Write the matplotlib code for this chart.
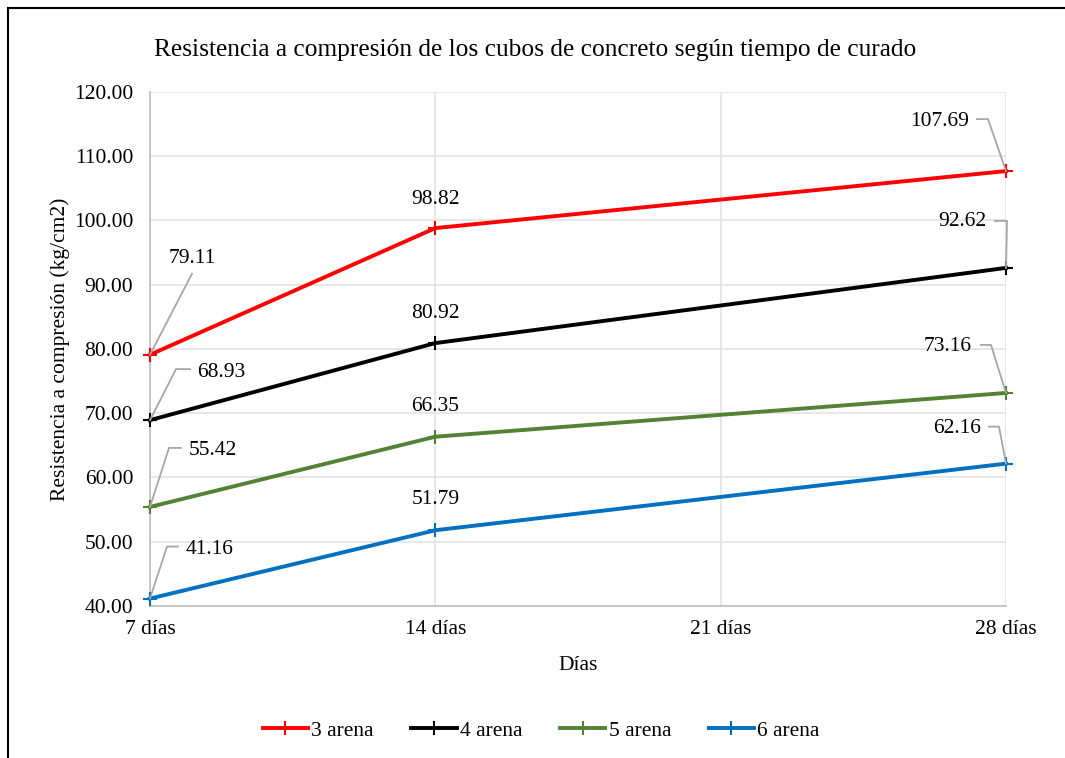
import matplotlib
matplotlib.use("Agg")
import matplotlib.pyplot as plt
from matplotlib.lines import Line2D
from matplotlib.transforms import IdentityTransform

plt.rcParams['font.family'] = ['Liberation Serif', 'DejaVu Serif']

# datos
dias = [7, 14, 28]
series = ['3 arena', '4 arena', '5 arena', '6 arena']
arena3 = [79.11, 98.82, 107.69]
arena4 = [68.93, 80.92, 92.62]
arena5 = [55.42, 66.35, 73.16]
arena6 = [41.16, 51.79, 62.16]
valores = [arena3, arena4, arena5, arena6]
colores = ['#ff0000', '#000000', '#548235', '#0070c0']
xticks = [7, 14, 21, 28]
xlabels = ['7 días', '14 días', '21 días', '28 días']

# posición de etiquetas (px respecto al punto, y hacia abajo) y guías
# (texto_dx, texto_dy, [vertices de la guía])
etiquetas = {
    (0, 0): (42, -96, [(42, -81)]),
    (0, 1): (0, -29, None),
    (0, 2): (-66, -50, [(-18, -52), (-29, -52)]),
    (1, 0): (71, -48, [(26, -51), (40, -51)]),
    (1, 1): (0, -30, None),
    (1, 2): (-44, -46, [(1, -47), (1, -47), (-11, -47)]),
    (2, 0): (63, -56, [(19, -59), (31, -59)]),
    (2, 1): (0, -30, None),
    (2, 2): (-58, -46, [(-15, -48), (-25, -48)]),
    (3, 0): (60, -49, [(17, -52), (28, -52)]),
    (3, 1): (0, -31, None),
    (3, 2): (-49, -35, [(-7, -37), (-17, -37)]),
}

fig = plt.figure(figsize=(10.65, 7.58), dpi=100)
ax = fig.add_axes([150 / 1065, 1 - 606 / 758, (1006 - 150) / 1065, (606 - 92) / 758])

for i, (nombre, vals, c) in enumerate(zip(series, valores, colores)):
    ax.plot(dias, vals, color=c, lw=2.8, marker='+', markersize=10, mew=1.5,
            label=nombre, zorder=3, clip_on=False)

ax.set_xlim(7, 28)
ax.set_ylim(40, 120)
ax.set_xticks(xticks)
ax.set_xticklabels(xlabels)
ax.set_yticks(range(40, 121, 10))
ax.set_yticklabels([f'{v:.2f}' for v in range(40, 121, 10)])
ax.tick_params(length=0, labelsize=15.5, pad=12)
ax.tick_params(axis='x', pad=10)
ax.grid(True, color='#e3e3e3', lw=1.2)
ax.set_axisbelow(True)
for s in ['top', 'right']:
    ax.spines[s].set_visible(False)
for s in ['left', 'bottom']:
    ax.spines[s].set_color('#bfbfbf')
    ax.spines[s].set_linewidth(1.2)

ax.set_title('Resistencia a compresión de los cubos de concreto según tiempo de curado',
             fontsize=18.3, pad=26, x=0.45)
ax.set_xlabel('Días', fontsize=15.5, labelpad=12)
ax.set_ylabel('Resistencia a compresión (kg/cm2)', fontsize=15.5, labelpad=3)

# etiquetas de datos con guías
fig.canvas.draw()
for (i, j), (tdx, tdy, guia) in etiquetas.items():
    px, py = ax.transData.transform((dias[j], valores[i][j]))
    ax.text(px + tdx, py - tdy, f'{valores[i][j]:.2f}', transform=IdentityTransform(),
            ha='center', va='center', fontsize=15.5, zorder=5)
    if guia:
        xs = [px] + [px + gx for gx, gy in guia]
        ys = [py] + [py - gy for gx, gy in guia]
        fig.add_artist(Line2D(xs, ys, transform=IdentityTransform(), color='#a6a6a6', lw=1.3, zorder=4))

leg = ax.legend(loc='upper center', bbox_to_anchor=(0.457, -0.185), ncol=4, frameon=False,
                fontsize=15.5, handlelength=2.1, handletextpad=0.15, columnspacing=1.75)

# marco del gráfico
fig.add_artist(Line2D([8 / 1065, 8 / 1065], [0, 1 - 8 / 758], transform=fig.transFigure, color='black', lw=1.5))
fig.add_artist(Line2D([8 / 1065, 1], [1 - 8 / 758, 1 - 8 / 758], transform=fig.transFigure, color='black', lw=1.5))

fig.savefig('out.png', dpi=100)
